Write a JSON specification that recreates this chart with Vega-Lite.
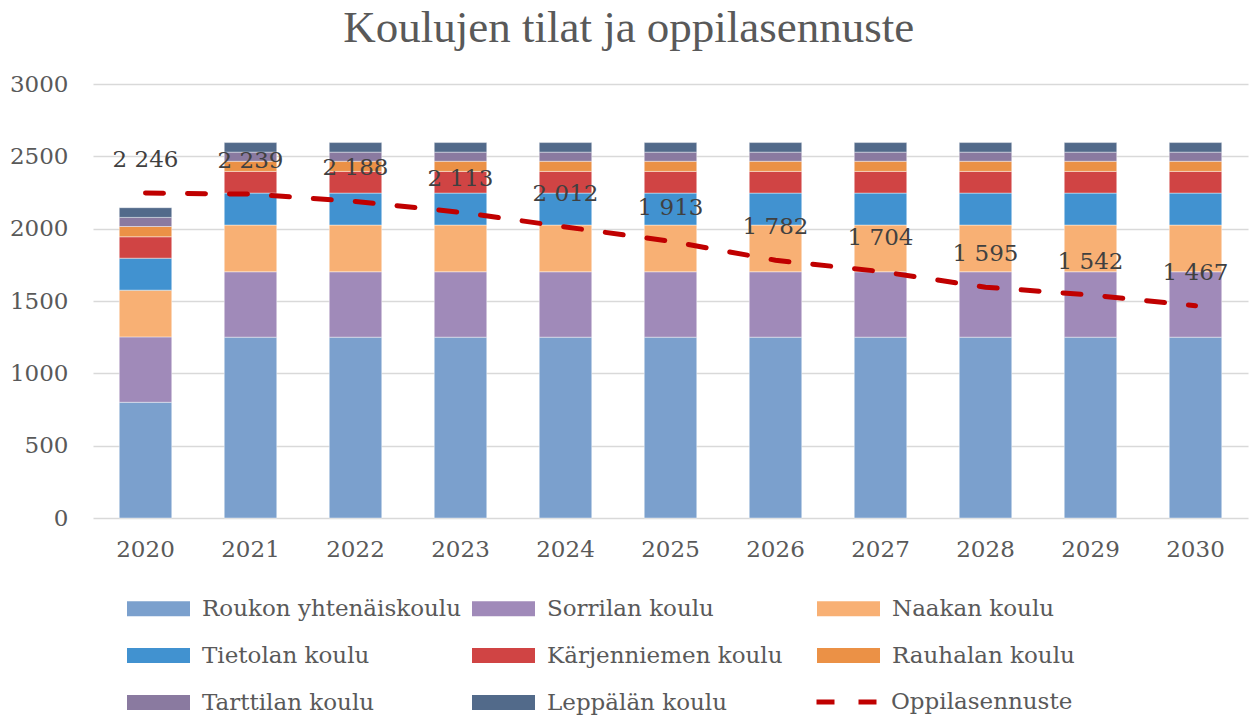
{
  "$schema": "https://vega.github.io/schema/vega-lite/v6.json",
  "width": 1155,
  "height": 434,
  "autosize": {"type": "none"},
  "padding": {"left": 93, "top": 84, "right": 5, "bottom": 198},
  "background": "#ffffff",
  "title": {
    "text": "Koulujen tilat ja oppilasennuste",
    "font": "Liberation Serif",
    "fontSize": 45,
    "fontWeight": "normal",
    "color": "#595959",
    "anchor": "middle",
    "frame": "bounds",
    "offset": 22
  },
  "config": {
    "view": {"stroke": null},
    "locale": {"number": {"decimal": ",", "thousands": " ", "grouping": [3], "currency": ["", " €"]}},
    "axis": {"labelFont": "DejaVu Serif", "labelFontSize": 23, "labelColor": "#595959", "titleFont": "DejaVu Serif"},
    "legend": {"labelFont": "DejaVu Serif", "labelFontSize": 23, "labelColor": "#595959"}
  },
  "datasets": {
    "bars": [
      {"year": "2020", "school": "Roukon yhtenäiskoulu", "idx": 1, "value": 800},
      {"year": "2020", "school": "Sorrilan koulu", "idx": 2, "value": 452},
      {"year": "2020", "school": "Naakan koulu", "idx": 3, "value": 323},
      {"year": "2020", "school": "Tietolan koulu", "idx": 4, "value": 221},
      {"year": "2020", "school": "Kärjenniemen koulu", "idx": 5, "value": 148},
      {"year": "2020", "school": "Rauhalan koulu", "idx": 6, "value": 71},
      {"year": "2020", "school": "Tarttilan koulu", "idx": 7, "value": 63},
      {"year": "2020", "school": "Leppälän koulu", "idx": 8, "value": 67},
      {"year": "2021", "school": "Roukon yhtenäiskoulu", "idx": 1, "value": 1250},
      {"year": "2021", "school": "Sorrilan koulu", "idx": 2, "value": 452},
      {"year": "2021", "school": "Naakan koulu", "idx": 3, "value": 323},
      {"year": "2021", "school": "Tietolan koulu", "idx": 4, "value": 221},
      {"year": "2021", "school": "Kärjenniemen koulu", "idx": 5, "value": 150},
      {"year": "2021", "school": "Rauhalan koulu", "idx": 6, "value": 70},
      {"year": "2021", "school": "Tarttilan koulu", "idx": 7, "value": 63},
      {"year": "2021", "school": "Leppälän koulu", "idx": 8, "value": 66},
      {"year": "2022", "school": "Roukon yhtenäiskoulu", "idx": 1, "value": 1250},
      {"year": "2022", "school": "Sorrilan koulu", "idx": 2, "value": 452},
      {"year": "2022", "school": "Naakan koulu", "idx": 3, "value": 323},
      {"year": "2022", "school": "Tietolan koulu", "idx": 4, "value": 221},
      {"year": "2022", "school": "Kärjenniemen koulu", "idx": 5, "value": 150},
      {"year": "2022", "school": "Rauhalan koulu", "idx": 6, "value": 70},
      {"year": "2022", "school": "Tarttilan koulu", "idx": 7, "value": 63},
      {"year": "2022", "school": "Leppälän koulu", "idx": 8, "value": 66},
      {"year": "2023", "school": "Roukon yhtenäiskoulu", "idx": 1, "value": 1250},
      {"year": "2023", "school": "Sorrilan koulu", "idx": 2, "value": 452},
      {"year": "2023", "school": "Naakan koulu", "idx": 3, "value": 323},
      {"year": "2023", "school": "Tietolan koulu", "idx": 4, "value": 221},
      {"year": "2023", "school": "Kärjenniemen koulu", "idx": 5, "value": 150},
      {"year": "2023", "school": "Rauhalan koulu", "idx": 6, "value": 70},
      {"year": "2023", "school": "Tarttilan koulu", "idx": 7, "value": 63},
      {"year": "2023", "school": "Leppälän koulu", "idx": 8, "value": 66},
      {"year": "2024", "school": "Roukon yhtenäiskoulu", "idx": 1, "value": 1250},
      {"year": "2024", "school": "Sorrilan koulu", "idx": 2, "value": 452},
      {"year": "2024", "school": "Naakan koulu", "idx": 3, "value": 323},
      {"year": "2024", "school": "Tietolan koulu", "idx": 4, "value": 221},
      {"year": "2024", "school": "Kärjenniemen koulu", "idx": 5, "value": 150},
      {"year": "2024", "school": "Rauhalan koulu", "idx": 6, "value": 70},
      {"year": "2024", "school": "Tarttilan koulu", "idx": 7, "value": 63},
      {"year": "2024", "school": "Leppälän koulu", "idx": 8, "value": 66},
      {"year": "2025", "school": "Roukon yhtenäiskoulu", "idx": 1, "value": 1250},
      {"year": "2025", "school": "Sorrilan koulu", "idx": 2, "value": 452},
      {"year": "2025", "school": "Naakan koulu", "idx": 3, "value": 323},
      {"year": "2025", "school": "Tietolan koulu", "idx": 4, "value": 221},
      {"year": "2025", "school": "Kärjenniemen koulu", "idx": 5, "value": 150},
      {"year": "2025", "school": "Rauhalan koulu", "idx": 6, "value": 70},
      {"year": "2025", "school": "Tarttilan koulu", "idx": 7, "value": 63},
      {"year": "2025", "school": "Leppälän koulu", "idx": 8, "value": 66},
      {"year": "2026", "school": "Roukon yhtenäiskoulu", "idx": 1, "value": 1250},
      {"year": "2026", "school": "Sorrilan koulu", "idx": 2, "value": 452},
      {"year": "2026", "school": "Naakan koulu", "idx": 3, "value": 323},
      {"year": "2026", "school": "Tietolan koulu", "idx": 4, "value": 221},
      {"year": "2026", "school": "Kärjenniemen koulu", "idx": 5, "value": 150},
      {"year": "2026", "school": "Rauhalan koulu", "idx": 6, "value": 70},
      {"year": "2026", "school": "Tarttilan koulu", "idx": 7, "value": 63},
      {"year": "2026", "school": "Leppälän koulu", "idx": 8, "value": 66},
      {"year": "2027", "school": "Roukon yhtenäiskoulu", "idx": 1, "value": 1250},
      {"year": "2027", "school": "Sorrilan koulu", "idx": 2, "value": 452},
      {"year": "2027", "school": "Naakan koulu", "idx": 3, "value": 323},
      {"year": "2027", "school": "Tietolan koulu", "idx": 4, "value": 221},
      {"year": "2027", "school": "Kärjenniemen koulu", "idx": 5, "value": 150},
      {"year": "2027", "school": "Rauhalan koulu", "idx": 6, "value": 70},
      {"year": "2027", "school": "Tarttilan koulu", "idx": 7, "value": 63},
      {"year": "2027", "school": "Leppälän koulu", "idx": 8, "value": 66},
      {"year": "2028", "school": "Roukon yhtenäiskoulu", "idx": 1, "value": 1250},
      {"year": "2028", "school": "Sorrilan koulu", "idx": 2, "value": 452},
      {"year": "2028", "school": "Naakan koulu", "idx": 3, "value": 323},
      {"year": "2028", "school": "Tietolan koulu", "idx": 4, "value": 221},
      {"year": "2028", "school": "Kärjenniemen koulu", "idx": 5, "value": 150},
      {"year": "2028", "school": "Rauhalan koulu", "idx": 6, "value": 70},
      {"year": "2028", "school": "Tarttilan koulu", "idx": 7, "value": 63},
      {"year": "2028", "school": "Leppälän koulu", "idx": 8, "value": 66},
      {"year": "2029", "school": "Roukon yhtenäiskoulu", "idx": 1, "value": 1250},
      {"year": "2029", "school": "Sorrilan koulu", "idx": 2, "value": 452},
      {"year": "2029", "school": "Naakan koulu", "idx": 3, "value": 323},
      {"year": "2029", "school": "Tietolan koulu", "idx": 4, "value": 221},
      {"year": "2029", "school": "Kärjenniemen koulu", "idx": 5, "value": 150},
      {"year": "2029", "school": "Rauhalan koulu", "idx": 6, "value": 70},
      {"year": "2029", "school": "Tarttilan koulu", "idx": 7, "value": 63},
      {"year": "2029", "school": "Leppälän koulu", "idx": 8, "value": 66},
      {"year": "2030", "school": "Roukon yhtenäiskoulu", "idx": 1, "value": 1250},
      {"year": "2030", "school": "Sorrilan koulu", "idx": 2, "value": 452},
      {"year": "2030", "school": "Naakan koulu", "idx": 3, "value": 323},
      {"year": "2030", "school": "Tietolan koulu", "idx": 4, "value": 221},
      {"year": "2030", "school": "Kärjenniemen koulu", "idx": 5, "value": 150},
      {"year": "2030", "school": "Rauhalan koulu", "idx": 6, "value": 70},
      {"year": "2030", "school": "Tarttilan koulu", "idx": 7, "value": 63},
      {"year": "2030", "school": "Leppälän koulu", "idx": 8, "value": 66}
    ],
    "forecast": [
      {"year": "2020", "value": 2246},
      {"year": "2021", "value": 2239},
      {"year": "2022", "value": 2188},
      {"year": "2023", "value": 2113},
      {"year": "2024", "value": 2012},
      {"year": "2025", "value": 1913},
      {"year": "2026", "value": 1782},
      {"year": "2027", "value": 1704},
      {"year": "2028", "value": 1595},
      {"year": "2029", "value": 1542},
      {"year": "2030", "value": 1467}
    ]
  },
  "encoding": {
    "x": {
      "field": "year",
      "type": "ordinal",
      "scale": {"paddingInner": 0.5, "paddingOuter": 0.25},
      "axis": {"title": null, "labelAngle": 0, "domain": false, "ticks": false, "labelPadding": 20, "grid": false}
    }
  },
  "layer": [
    {
      "data": {"name": "bars"},
      "mark": {"type": "bar", "stroke": "#ffffff", "strokeWidth": 0.6, "strokeOpacity": 0.7},
      "encoding": {
        "y": {
          "field": "value",
          "type": "quantitative",
          "stack": "zero",
          "scale": {"domain": [0, 3000]},
          "axis": {"title": null, "values": [0, 500, 1000, 1500, 2000, 2500, 3000], "format": "d", "domain": false, "ticks": false, "labelPadding": 25, "gridColor": "#d9d9d9", "gridWidth": 1.5}
        },
        "color": {
          "field": "school",
          "type": "nominal",
          "scale": {
            "domain": ["Roukon yhtenäiskoulu", "Sorrilan koulu", "Naakan koulu", "Tietolan koulu", "Kärjenniemen koulu", "Rauhalan koulu", "Tarttilan koulu", "Leppälän koulu"],
            "range": ["#7ba0cd", "#a08ab9", "#f8b074", "#4192d0", "#d04444", "#eb9146", "#8a7aa0", "#526a8a"]
          },
          "legend": {
            "title": null,
            "orient": "none",
            "legendX": 34,
            "legendY": 493,
            "columns": 3,
            "direction": "horizontal",
            "gridAlign": "all",
            "columnPadding": 11,
            "rowPadding": 3,
            "padding": 0,
            "symbolType": "M-1,-0.24H1V0.24H-1Z",
            "symbolSize": 3969,
            "symbolStrokeWidth": 0,
            "labelOffset": 12,
            "labelLimit": 400
          }
        },
        "order": {"field": "idx", "type": "quantitative", "sort": "ascending"}
      }
    },
    {
      "data": {"name": "forecast"},
      "mark": {"type": "line", "color": "#c00000", "strokeWidth": 5, "strokeCap": "round"},
      "encoding": {
        "y": {"field": "value", "type": "quantitative"},
        "strokeDash": {
          "datum": "Oppilasennuste",
          "scale": {"range": [[18, 24]]},
          "legend": {
            "title": null,
            "orient": "none",
            "legendX": 721,
            "legendY": 583,
            "padding": 0,
            "symbolType": "stroke",
            "symbolStrokeColor": "#c00000",
            "symbolStrokeWidth": 5,
            "symbolDash": [23, 18],
            "symbolSize": 4225,
            "labelOffset": 7,
            "labelLimit": 400
          }
        }
      }
    },
    {
      "data": {"name": "forecast"},
      "mark": {"type": "text", "dy": -33, "font": "DejaVu Serif", "fontSize": 23, "color": "#404040", "baseline": "middle"},
      "encoding": {
        "y": {"field": "value", "type": "quantitative"},
        "text": {"field": "value", "type": "quantitative", "format": ",d"}
      }
    }
  ]
}
